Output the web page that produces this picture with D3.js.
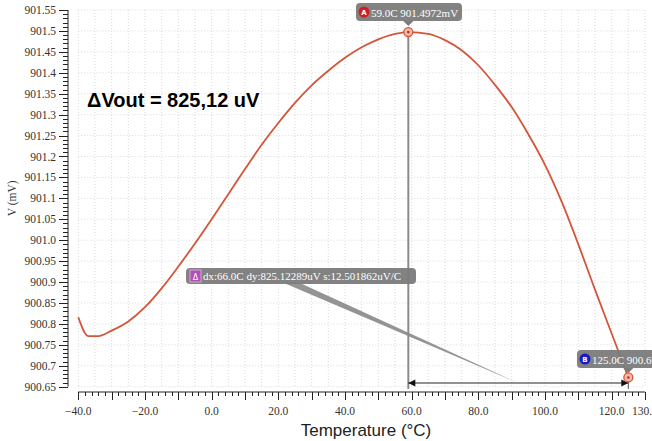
<!DOCTYPE html>
<html>
<head>
<meta charset="utf-8">
<script src="https://cdn.jsdelivr.net/npm/d3@7"></script>
<style>
  html, body { margin: 0; padding: 0; background: #fff; overflow: hidden; }
  svg { display: block; }
</style>
</head>
<body>
<div id="chart"></div>
<script>
// temperature (°C) and output voltage (mV)
var temps = [-40, -37, -34, -30, -25, -20, -15, -10, -5, 0, 5, 10, 15, 20, 25, 30, 35, 40, 45, 50, 55, 59,
             65, 70, 75, 80, 85, 90, 95, 100, 105, 110, 115, 120, 125];
var vout = [900.816, 900.771, 900.771, 900.784, 900.806, 900.840, 900.885, 900.937, 900.992, 901.050,
            901.110, 901.170, 901.228, 901.280, 901.328, 901.370, 901.405, 901.436, 901.461, 901.480,
            901.493, 901.4972, 901.493, 901.478, 901.454, 901.418, 901.371, 901.318, 901.253, 901.180,
            901.092, 900.990, 900.882, 900.777, 900.6721];

var xTicks = [-40, -20, 0, 20, 40, 60, 80, 100, 120, 130];
var yTicks = [900.65, 900.7, 900.75, 900.8, 900.85, 900.9, 900.95, 901.0, 901.05, 901.1, 901.15,
              901.2, 901.25, 901.3, 901.35, 901.4, 901.45, 901.5, 901.55];

// markers A / B
var markerA = {name: "A", t: 59.0, v: 901.4972};
var markerB = {name: "B", t: 125.0, v: 900.67208};
var deltaText = "dx:66.0C dy:825.12289uV s:12.501862uV/C";
var noteText = "ΔVout = 825,12 uV";

var width = 652, height = 441;
var x = d3.scaleLinear().domain([-40, 130]).range([78.3, 645]);
var y = d3.scaleLinear().domain([900.65, 901.55]).range([386.7, 10]);

var serif = "'Liberation Serif', 'Times New Roman', Times, serif";
var sans = "'Liberation Sans', Arial, sans-serif";

var svg = d3.select("#chart").append("svg")
    .attr("width", width).attr("height", height);

var red = "#d3553a";

// grid
var grid = svg.append("g").attr("stroke", "#d9d9d9").attr("stroke-dasharray", "1,2");
grid.selectAll(".gx").data(d3.range(-40, 131, 5)).enter().append("line")
    .attr("x1", function (d) { return x(d); }).attr("x2", function (d) { return x(d); })
    .attr("y1", y(901.55)).attr("y2", y(900.65));
grid.selectAll(".gy").data(yTicks).enter().append("line")
    .attr("x1", x(-40)).attr("x2", x(130))
    .attr("y1", function (d) { return y(d); }).attr("y2", function (d) { return y(d); });

// y axis
var yAxisX = 68;
var yMinor = d3.range(0, 91).map(function (i) { return 900.65 + i * 0.01; });
var ya = svg.append("g").attr("stroke", "#222");
ya.append("line").attr("x1", yAxisX).attr("x2", yAxisX).attr("y1", y(901.55)).attr("y2", y(900.65));
ya.selectAll(".ym").data(yMinor).enter().append("line")
    .attr("x1", yAxisX).attr("x2", function (d, i) { return i % 5 === 0 ? yAxisX - 9 : yAxisX - 5; })
    .attr("y1", function (d) { return Math.round(y(d)) + 0.5; })
    .attr("y2", function (d) { return Math.round(y(d)) + 0.5; });
svg.append("g").selectAll("text").data(yTicks).enter().append("text")
    .attr("x", yAxisX - 12).attr("y", function (d) { return y(d); })
    .attr("dy", "0.35em").attr("text-anchor", "end")
    .style("font-family", serif).style("font-size", "11.5px").attr("fill", "#333")
    .text(function (d) { return d3.format(".2f")(d).replace(/0$/, ""); });

svg.append("text")
    .attr("transform", "translate(16," + y(901.1) + ") rotate(-90)")
    .attr("text-anchor", "middle")
    .style("font-family", serif).style("font-size", "11.5px").attr("fill", "#333")
    .text("V (mV)");

// x axis
var xAxisY = 392;
var xMinor = d3.range(-40, 131, 2);
var xa = svg.append("g").attr("stroke", "#222");
xa.append("line").attr("x1", x(-40)).attr("x2", x(130)).attr("y1", xAxisY).attr("y2", xAxisY);
xa.selectAll(".xm").data(xMinor).enter().append("line")
    .attr("x1", function (d) { return Math.round(x(d)) + 0.5; })
    .attr("x2", function (d) { return Math.round(x(d)) + 0.5; })
    .attr("y1", xAxisY)
    .attr("y2", function (d) { return d % 10 === 0 ? xAxisY + 8 : xAxisY + 4; });
svg.append("g").selectAll("text").data(xTicks).enter().append("text")
    .attr("x", function (d) { return x(d); }).attr("y", 415)
    .attr("text-anchor", "middle")
    .style("font-family", serif).style("font-size", "11.5px").attr("fill", "#333")
    .text(function (d) { return d3.format(".1f")(d); });

svg.append("text")
    .attr("x", 366).attr("y", 436).attr("text-anchor", "middle")
    .style("font-family", sans).style("font-size", "17px").attr("fill", "#222")
    .text("Temperature (°C)");

// curve
var data = temps.map(function (t, i) { return {t: t, v: vout[i]}; });
var line = d3.line().x(function (d) { return x(d.t); }).y(function (d) { return y(d.v); })
    .curve(d3.curveMonotoneX);
svg.append("path").datum(data)
    .attr("fill", "none").attr("stroke", red).attr("stroke-width", 1.8)
    .attr("d", line);

// delta annotation
var ax = x(markerA.t), ay = y(markerA.v), bx = x(markerB.t), by = y(markerB.v);
var arrowY = 383;
svg.append("line").attr("x1", ax).attr("x2", ax).attr("y1", ay).attr("y2", 389)
    .attr("stroke", "#8a8a8a").attr("stroke-width", 2);
svg.append("line").attr("x1", bx).attr("x2", bx).attr("y1", by).attr("y2", 389)
    .attr("stroke", "#555").attr("stroke-width", 1);
svg.append("line").attr("x1", ax).attr("x2", bx).attr("y1", arrowY).attr("y2", arrowY)
    .attr("stroke", "#222").attr("stroke-width", 1);
svg.append("path").attr("d", "M" + ax + "," + arrowY + "l7,-3.5v7z").attr("fill", "#111");
svg.append("path").attr("d", "M" + bx + "," + arrowY + "l-7,-3.5v7z").attr("fill", "#111");

// leader wedge from delta label to middle of dx arrow
var midX = x((markerA.t + markerB.t) / 2);
svg.append("path")
    .attr("d", "M284,283L300,283L" + midX + "," + arrowY + "Z")
    .attr("fill", "#888").attr("opacity", 0.9);

function labelBox(x0, y0, w, h) {
  return svg.append("rect").attr("x", x0).attr("y", y0).attr("width", w).attr("height", h)
      .attr("rx", 4).attr("fill", "#7b7b7b").attr("opacity", 0.95);
}

// delta label
labelBox(186, 268, 230, 16);
svg.append("rect").attr("x", 190).attr("y", 270).attr("width", 11).attr("height", 12)
    .attr("fill", "#b04fb5").attr("stroke", "#e6b6ea").attr("stroke-width", 0.8);
svg.append("text").attr("x", 195.5).attr("y", 279.5).attr("text-anchor", "middle")
    .style("font-family", "'DejaVu Sans', sans-serif").style("font-size", "8px").attr("fill", "#fff").text("Δ");
svg.append("text").attr("x", 203).attr("y", 280)
    .style("font-family", serif).style("font-size", "11px").attr("fill", "#fff")
    .text(deltaText);

// marker labels
function markerLabel(m, bx0, by0, w, fill) {
  var mx = x(m.t);
  labelBox(bx0, by0, w, 18);
  svg.append("path").attr("d", "M" + (mx - 5) + "," + (by0 + 18) + "L" + mx + "," + (by0 + 23) + "L" + (mx + 5) + "," + (by0 + 18) + "Z")
      .attr("fill", "#7b7b7b");
  svg.append("circle").attr("cx", bx0 + 8).attr("cy", by0 + 9).attr("r", 5.5).attr("fill", fill);
  svg.append("text").attr("x", bx0 + 8).attr("y", by0 + 12).attr("text-anchor", "middle")
      .style("font-family", "'DejaVu Sans', sans-serif").style("font-weight", "bold")
      .style("font-size", "7px").attr("fill", "#fff").text(m.name);
  svg.append("text").attr("x", bx0 + 15).attr("y", by0 + 13.5)
      .style("font-family", serif).style("font-size", "11px").attr("fill", "#fff")
      .text(m.t.toFixed(1) + "C " + m.v.toFixed(4) + "mV");
}
markerLabel(markerA, 356, 3, 106, "#cc1f1f");
markerLabel(markerB, 577, 350, 110, "#1a1acc");

// marker circles
[markerA, markerB].forEach(function (m) {
  var g = svg.append("g").attr("transform", "translate(" + x(m.t) + "," + y(m.v) + ")");
  g.append("circle").attr("r", 4.5).attr("fill", "#f4b9a6").attr("stroke", red).attr("stroke-width", 1.3);
  g.append("circle").attr("r", 1.3).attr("fill", "#a33");
});

// note
svg.append("text").attr("x", 87).attr("y", 107)
    .style("font-family", sans).style("font-weight", "bold")
    .style("font-size", "20px").attr("fill", "#000")
    .text(noteText);
</script>
</body>
</html>
